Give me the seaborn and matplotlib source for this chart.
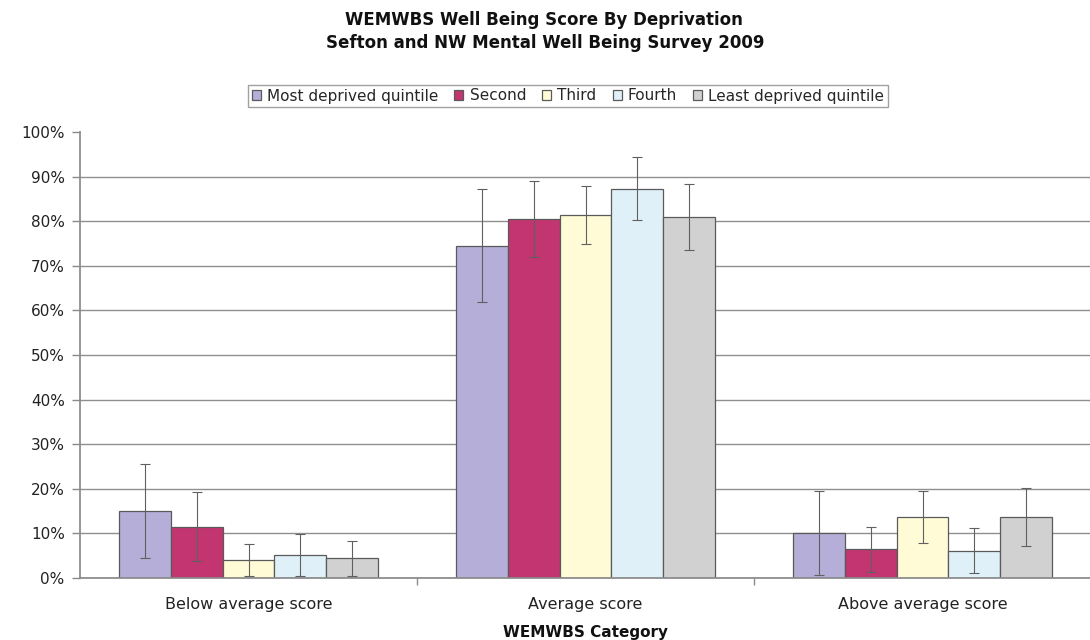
import matplotlib
matplotlib.use("Agg")
import matplotlib.pyplot as plt
import seaborn as sns
import pandas as pd
import numpy as np
from matplotlib.ticker import PercentFormatter, FixedLocator

categories = ["Below average score", "Average score", "Above average score"]
quintiles = ["Most deprived quintile", "Second", "Third", "Fourth", "Least deprived quintile"]
colors = ["#b4aed9", "#c23570", "#fffbd6", "#dff0f8", "#d1d1d1"]

# values (fraction) per quintile, in category order
most_deprived = [0.150, 0.745, 0.100]
second = [0.115, 0.805, 0.064]
third = [0.040, 0.813, 0.136]
fourth = [0.051, 0.873, 0.061]
least_deprived = [0.044, 0.810, 0.136]

err_most = [0.105, 0.127, 0.094]
err_second = [0.078, 0.085, 0.050]
err_third = [0.036, 0.065, 0.058]
err_fourth = [0.047, 0.070, 0.050]
err_least = [0.040, 0.074, 0.065]

values = [most_deprived, second, third, fourth, least_deprived]
errors = [err_most, err_second, err_third, err_fourth, err_least]

rows = []
for q, vals, errs in zip(quintiles, values, errors):
    for c, v, e in zip(categories, vals, errs):
        rows.append({"Category": c, "Quintile": q, "Value": v, "Err": e})
df = pd.DataFrame(rows)

sns.set_theme(style="white")
plt.rcParams['font.family'] = ['DejaVu Sans']

fig = plt.figure(figsize=(10.9, 6.4), dpi=100)
ax = fig.add_axes([80 / 1090, 62 / 640, 1011 / 1090, 446 / 640])

sns.barplot(data=df, x="Category", y="Value", hue="Quintile", order=categories,
            hue_order=quintiles, palette=colors, width=0.766, errorbar=None,
            edgecolor="#5a5a5a", linewidth=0.9, saturation=1, ax=ax, legend=True)

# error bars from bar patches
for container, q in zip(ax.containers, quintiles):
    sub = df[df["Quintile"] == q].set_index("Category").loc[categories]
    xs = [p.get_x() + p.get_width() / 2 for p in container.patches]
    ax.errorbar(xs, sub["Value"].values, yerr=sub["Err"].values, fmt="none",
                ecolor="#606060", elinewidth=0.8, capsize=3.5, capthick=0.8, zorder=5)

ax.set_ylim(0, 1.0)
ax.set_xlim(-0.5, 2.5)
ax.yaxis.set_major_formatter(PercentFormatter(1.0, decimals=0))
ax.set_yticks(np.arange(0, 1.01, 0.1))
ax.yaxis.grid(True, color="#8f8f8f", linewidth=1.0)
ax.set_axisbelow(True)
ax.yaxis.get_gridlines()[-1].set_visible(False)
for s in ["top", "right"]:
    ax.spines[s].set_visible(False)
ax.spines["bottom"].set_color("#8a8a8a")
ax.spines["left"].set_color("#8a8a8a")
ax.xaxis.set_minor_locator(FixedLocator([0.5, 1.5]))
ax.tick_params(axis="y", which="major", labelsize=11, colors="#222222", length=6,
               width=1, color="#8a8a8a", direction="out", left=True, pad=5)
ax.tick_params(axis="x", which="major", labelsize=11.5, colors="#222222", length=0, pad=14)
ax.tick_params(axis="x", which="minor", length=5, width=1, color="#8a8a8a",
               direction="out", bottom=True)
ax.set_ylabel("")
ax.set_xlabel("WEMWBS Category", fontsize=11, fontweight="bold", labelpad=9, color="#111111")

fig.text(544 / 1090, 1 - 20 / 640, "WEMWBS Well Being Score By Deprivation", ha="center",
         va="center", fontsize=12, fontweight="bold", color="#111111")
fig.text(545 / 1090, 1 - 43 / 640, "Sefton and NW Mental Well Being Survey 2009", ha="center",
         va="center", fontsize=12, fontweight="bold", color="#111111")

handles, labels = ax.get_legend_handles_labels()
ax.legend(handles, labels, loc="center", bbox_to_anchor=(568 / 1090, 1 - 96 / 640),
          bbox_transform=fig.transFigure, ncol=5, fontsize=11, frameon=True,
          fancybox=False, edgecolor="#8a8a8a", handlelength=0.6, handleheight=0.6,
          handletextpad=0.4, columnspacing=1.05, borderpad=0.25, borderaxespad=0)

fig.savefig("out.png", dpi=100, facecolor="white")
